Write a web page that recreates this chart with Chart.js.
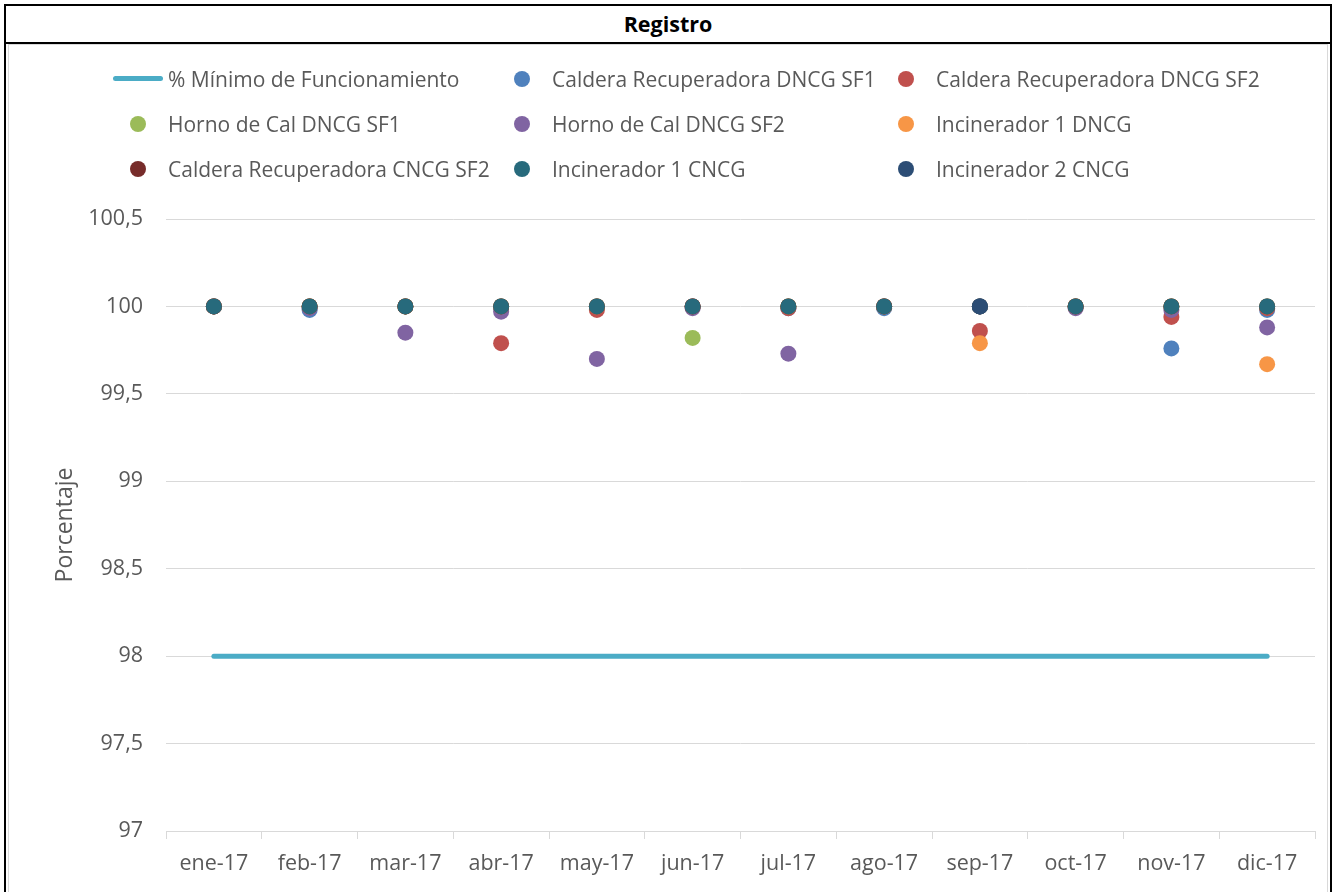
<!DOCTYPE html>
<html>
<head>
<meta charset="utf-8">
<script src="https://cdn.jsdelivr.net/npm/chart.js@4"></script>
<style>
  html, body { margin: 0; padding: 0; background: #fff; overflow: hidden; }
  body { width: 1336px; height: 892px; position: relative; font-family: "Open Sans", sans-serif; }
  #frame { position: absolute; left: 4px; top: 4px; width: 1324px; height: 900px; border: 2px solid #000; }
  #titlebar { position: absolute; left: 4px; top: 4px; width: 1324px; height: 36px; border: 2px solid #000;
    text-align: center; font-weight: bold; font-size: 21.5px; line-height: 36px; color: #000; }
  #inner { position: absolute; left: 8px; top: 44px; width: 1318px; height: 900px; border: 1px solid #d9d9d9; }
  #wrap { position: absolute; left: 5px; top: 43px; width: 1326px; height: 849px; }
  #legend { position: absolute; left: 0; top: 0; width: 1336px; height: 200px; }
  .item { position: absolute; display: flex; align-items: center; height: 30px; font-size: 21px; color: #595959; white-space: nowrap; }
  .mk { width: 50px; height: 30px; position: relative; margin-right: 5px; }
  .mk .ln { position: absolute; left: 0; right: 0; top: 12px; height: 5px; border-radius: 3px; }
  .mk .dt { position: absolute; left: 17px; top: 7px; width: 16px; height: 16px; border-radius: 50%; }
</style>
</head>
<body>
<div id="frame"></div>
<div id="titlebar">Registro</div>
<div id="inner"></div>
<div id="wrap"><canvas id="chart" width="1326" height="849"></canvas></div>
<div id="legend"></div>
<script>
const months = ["ene-17", "feb-17", "mar-17", "abr-17", "may-17", "jun-17", "jul-17", "ago-17", "sep-17", "oct-17", "nov-17", "dic-17"];

const minimo = [98, 98, 98, 98, 98, 98, 98, 98, 98, 98, 98, 98];
const calderaDncgSf1 = [100, 99.98, 100, 100, 100, 100, 99.99, 99.99, 100, 100, 99.76, 99.98];
const calderaDncgSf2 = [100, 100, 100, 99.79, 99.98, 100, 99.99, 100, 99.86, 100, 99.94, 99.99];
const hornoDncgSf1 = [100, 100, 100, 100, 100, 99.82, 100, 100, 100, 100, 100, 100];
const hornoDncgSf2 = [100, 99.99, 99.85, 99.97, 99.70, 99.99, 99.73, 100, 100, 99.99, 99.98, 99.88];
const incinerador1Dncg = [100, 100, 100, 100, 100, 100, 100, 100, 99.79, 100, 100, 99.67];
const calderaCncgSf2 = [100, 100, 100, 100, 100, 100, 100, 100, 100, 100, 100, 100];
const incinerador1Cncg = [100, 100, 100, 100, 100, 100, 100, 100, 100, 100, 100, 100];
const incinerador2Cncg = [null, null, null, null, null, null, null, null, 100, null, null, null];

const yTicks = [97, 97.5, 98, 98.5, 99, 99.5, 100, 100.5];

const series = [
  { label: "% Mínimo de Funcionamiento", data: minimo, color: "#4BACC6", line: true },
  { label: "Caldera Recuperadora DNCG SF1", data: calderaDncgSf1, color: "#4F81BD" },
  { label: "Caldera Recuperadora DNCG SF2", data: calderaDncgSf2, color: "#C0504D" },
  { label: "Horno de Cal DNCG SF1", data: hornoDncgSf1, color: "#9BBB59" },
  { label: "Horno de Cal DNCG SF2", data: hornoDncgSf2, color: "#8064A2" },
  { label: "Incinerador 1 DNCG", data: incinerador1Dncg, color: "#F79646" },
  { label: "Caldera Recuperadora CNCG SF2", data: calderaCncgSf2, color: "#772C2A" },
  { label: "Incinerador 1 CNCG", data: incinerador1Cncg, color: "#276A7C" },
  { label: "Incinerador 2 CNCG", data: incinerador2Cncg, color: "#2C4D75" },
];

// later series are painted on top, like in the spreadsheet
const datasets = series.map((s, i) => ({
  label: s.label,
  data: s.data,
  order: series.length - i,
  borderColor: s.color,
  backgroundColor: s.color,
  showLine: !!s.line,
  borderWidth: s.line ? 5 : 0,
  borderCapStyle: "round",
  pointRadius: s.line ? 0 : 8,
  pointHoverRadius: s.line ? 0 : 8,
  pointBorderWidth: 0,
  spanGaps: false,
}));

// legend as a 3-column grid
const legend = document.getElementById("legend");
series.forEach((s, i) => {
  const col = i % 3, row = Math.floor(i / 3);
  const el = document.createElement("div");
  el.className = "item";
  el.style.left = (113 + col * 384) + "px";
  el.style.top = (64 + row * 45) + "px";
  const mk = document.createElement("div");
  mk.className = "mk";
  const sw = document.createElement("div");
  sw.className = s.line ? "ln" : "dt";
  sw.style.background = s.color;
  mk.appendChild(sw);
  el.appendChild(mk);
  el.appendChild(document.createTextNode(s.label));
  legend.appendChild(el);
});

const ctx = document.getElementById("chart").getContext("2d");
new Chart(ctx, {
  type: "line",
  data: { labels: months, datasets: datasets },
  options: {
    responsive: false,
    animation: false,
    layout: { padding: { top: 176, right: 16, left: 0, bottom: 0 } },
    plugins: { legend: { display: false }, tooltip: { enabled: false } },
    scales: {
      x: {
        offset: true,
        grid: { offset: true, drawOnChartArea: false, drawTicks: true, tickLength: 8, color: "#d9d9d9" },
        border: { color: "#d9d9d9" },
        ticks: { color: "#595959", font: { family: "Open Sans", size: 21.5 }, padding: 12, maxRotation: 0 },
        afterFit: (s) => { s.height = 61; },
      },
      y: {
        min: 97,
        max: 100.5,
        afterBuildTicks: (s) => { s.ticks = yTicks.map((v) => ({ value: v })); },
        grid: { color: "#d9d9d9", drawTicks: false },
        border: { display: false },
        ticks: {
          color: "#595959",
          font: { family: "Open Sans", size: 21.5 },
          padding: 23,
          callback: (v) => String(v).replace(".", ","),
        },
        title: {
          display: true,
          text: "Porcentaje",
          color: "#595959",
          font: { family: "Open Sans", size: 23 },
          padding: { top: 47, bottom: 0 },
        },
        afterFit: (s) => { s.width = 161; },
      },
    },
  },
});
</script>
</body>
</html>
